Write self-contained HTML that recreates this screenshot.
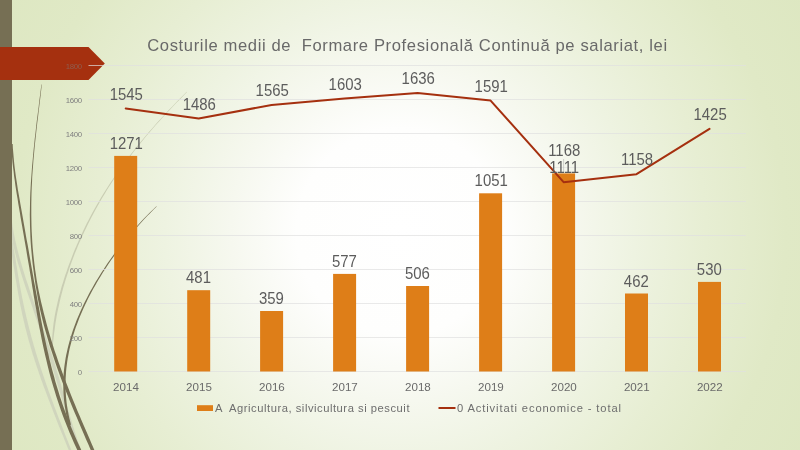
<!DOCTYPE html>
<html lang="ro"><head><meta charset="utf-8"><title>Costurile medii de Formare Profesională Continuă pe salariat, lei</title>
<style>
html,body{margin:0;padding:0;width:800px;height:450px;overflow:hidden;background:#e3eacf}
svg{display:block;position:absolute;left:0;top:0}
text{font-family:"Liberation Sans",sans-serif;white-space:pre}
.t{font-size:16.6px;fill:#696969;letter-spacing:0.62px}
.dl{font-size:15.9px;fill:#5c5c5c}
.ya{font-size:7.8px;fill:#808080;letter-spacing:-0.3px}
.xa{font-size:11.6px;fill:#6a6a6a}
.lg{font-size:11.2px;fill:#6e6e6e}
</style></head><body>
<svg width="800" height="450" viewBox="0 0 800 450">
<defs>
<radialGradient id="bg" gradientUnits="userSpaceOnUse" cx="400" cy="232" r="470">
<stop offset="0" stop-color="#ffffff"/>
<stop offset="0.22" stop-color="#fefefd"/>
<stop offset="0.36" stop-color="#f6f8ef"/>
<stop offset="0.5" stop-color="#eef3e1"/>
<stop offset="0.65" stop-color="#e7eed3"/>
<stop offset="0.82" stop-color="#e0e9c6"/>
<stop offset="1" stop-color="#dde7c1"/>
</radialGradient>
</defs>
<rect width="800" height="450" fill="url(#bg)"/>
<g stroke="none">
<path d="M11.3 235.7 L12.0 239.0 L12.6 242.2 L13.2 245.5 L13.7 248.7 L14.3 252.0 L14.8 255.2 L15.4 258.5 L15.9 261.7 L16.4 265.0 L17.0 268.2 L17.5 271.5 L18.0 274.7 L18.6 278.0 L19.1 281.2 L19.7 284.4 L20.3 287.7 L20.9 290.9 L21.5 294.1 L22.1 297.4 L22.8 300.6 L23.4 303.8 L24.1 307.1 L24.8 310.3 L25.6 313.5 L26.3 316.8 L27.1 320.0 L27.9 323.2 L28.7 326.5 L29.5 329.7 L30.4 332.9 L31.2 336.2 L32.1 339.4 L33.0 342.6 L33.9 345.9 L34.9 349.1 L35.8 352.4 L36.8 355.6 L37.8 358.8 L38.8 362.1 L39.9 365.3 L40.9 368.6 L42.0 371.8 L43.1 375.1 L44.2 378.3 L45.3 381.6 L46.4 384.8 L47.6 388.1 L48.7 391.3 L49.9 394.6 L51.1 397.8 L52.3 401.1 L53.5 404.3 L54.7 407.5 L56.0 410.8 L57.2 414.0 L58.4 417.3 L59.7 420.5 L61.0 423.8 L62.2 427.0 L63.5 430.3 L64.7 433.6 L66.0 436.8 L67.3 440.1 L68.6 443.3 L69.9 446.6 L71.2 449.8 L72.5 453.1 L73.8 456.3 L75.1 459.5 L72.9 460.5 L71.6 457.2 L70.3 454.0 L69.0 450.7 L67.6 447.5 L66.3 444.2 L65.0 441.0 L63.7 437.7 L62.4 434.5 L61.0 431.3 L59.7 428.0 L58.4 424.8 L57.1 421.5 L55.9 418.3 L54.6 415.1 L53.3 411.8 L52.1 408.6 L50.8 405.3 L49.6 402.1 L48.3 398.8 L47.1 395.6 L45.9 392.3 L44.7 389.1 L43.5 385.9 L42.3 382.6 L41.1 379.4 L40.0 376.1 L38.9 372.9 L37.8 369.6 L36.7 366.4 L35.6 363.1 L34.6 359.9 L33.5 356.6 L32.5 353.4 L31.5 350.1 L30.6 346.9 L29.6 343.6 L28.7 340.4 L27.8 337.1 L26.9 333.8 L26.1 330.6 L25.2 327.3 L24.5 324.1 L23.7 320.8 L23.0 317.5 L22.2 314.3 L21.6 311.0 L20.9 307.8 L20.2 304.5 L19.6 301.2 L19.0 298.0 L18.4 294.7 L17.8 291.5 L17.3 288.2 L16.7 285.0 L16.2 281.7 L15.6 278.4 L15.1 275.2 L14.6 271.9 L14.1 268.7 L13.5 265.4 L13.0 262.2 L12.5 259.0 L12.0 255.7 L11.5 252.5 L10.9 249.2 L10.4 246.0 L9.8 242.7 L9.3 239.5 L8.7 236.3Z" fill="#d0d5bd"/>
<path d="M11.8 219.8 L12.2 223.3 L12.7 226.7 L13.3 230.2 L13.9 233.7 L14.6 237.1 L15.3 240.6 L16.1 244.0 L16.9 247.5 L17.8 250.9 L18.7 254.4 L19.6 257.9 L20.6 261.3 L21.6 264.8 L22.6 268.3 L23.7 271.7 L24.8 275.2 L25.9 278.7 L27.0 282.1 L28.2 285.6 L29.3 289.1 L30.5 292.6 L31.7 296.0 L32.9 299.5 L34.1 303.0 L35.3 306.5 L36.6 309.9 L37.8 313.4 L39.1 316.9 L40.3 320.3 L41.5 323.8 L42.7 327.3 L43.9 330.8 L45.1 334.3 L46.3 337.7 L47.4 341.2 L48.6 344.7 L49.7 348.2 L50.9 351.7 L52.0 355.1 L53.1 358.6 L54.2 362.1 L55.3 365.6 L56.3 369.1 L57.4 372.6 L58.5 376.0 L59.5 379.5 L60.5 383.0 L61.5 386.5 L62.5 390.0 L63.5 393.5 L64.5 397.0 L65.5 400.4 L66.5 403.9 L67.5 407.4 L68.5 410.9 L69.5 414.4 L70.5 417.8 L71.6 421.3 L72.6 424.8 L73.7 428.3 L74.8 431.7 L76.0 435.2 L77.1 438.7 L78.3 442.2 L79.6 445.7 L80.9 449.1 L82.3 452.6 L83.7 456.0 L85.3 459.5 L83.1 460.5 L81.5 457.0 L80.1 453.5 L78.7 450.0 L77.3 446.5 L76.0 443.0 L74.7 439.6 L73.4 436.1 L72.2 432.6 L71.1 429.1 L70.0 425.6 L68.9 422.2 L67.8 418.7 L66.7 415.2 L65.7 411.7 L64.6 408.2 L63.6 404.8 L62.6 401.3 L61.5 397.8 L60.5 394.4 L59.5 390.9 L58.4 387.4 L57.4 383.9 L56.3 380.5 L55.3 377.0 L54.2 373.5 L53.2 370.0 L52.1 366.6 L51.0 363.1 L49.9 359.6 L48.8 356.2 L47.7 352.7 L46.6 349.2 L45.4 345.7 L44.3 342.3 L43.1 338.8 L42.0 335.3 L40.8 331.8 L39.6 328.4 L38.4 324.9 L37.2 321.4 L36.0 317.9 L34.8 314.4 L33.6 310.9 L32.5 307.5 L31.3 304.0 L30.1 300.5 L28.9 297.0 L27.7 293.5 L26.5 290.0 L25.3 286.6 L24.2 283.1 L23.0 279.6 L21.9 276.1 L20.8 272.6 L19.8 269.1 L18.7 265.6 L17.7 262.2 L16.7 258.7 L15.8 255.2 L14.9 251.7 L14.0 248.2 L13.2 244.7 L12.4 241.2 L11.7 237.7 L11.1 234.2 L10.5 230.7 L9.9 227.2 L9.5 223.7 L9.1 220.2Z" fill="#d0d5bd"/>
<path d="M187.0 92.1 L183.4 95.8 L179.8 99.4 L176.2 103.1 L172.7 106.8 L169.2 110.4 L165.8 114.1 L162.4 117.8 L159.1 121.5 L155.8 125.1 L152.6 128.8 L149.4 132.5 L146.3 136.1 L143.3 139.8 L140.3 143.5 L137.3 147.2 L134.4 150.8 L131.6 154.5 L128.8 158.2 L126.0 161.8 L123.4 165.5 L120.7 169.2 L118.2 172.8 L115.7 176.5 L113.2 180.2 L110.8 183.9 L108.5 187.5 L106.2 191.2 L104.0 194.9 L101.8 198.6 L99.7 202.2 L97.6 205.9 L95.6 209.6 L93.6 213.2 L91.6 216.9 L89.8 220.6 L87.9 224.3 L86.1 227.9 L84.4 231.6 L82.7 235.3 L81.0 238.9 L79.4 242.6 L77.8 246.2 L76.3 249.9 L74.8 253.6 L73.4 257.2 L72.0 260.9 L70.7 264.6 L69.4 268.2 L68.2 271.9 L67.0 275.6 L65.8 279.2 L64.7 282.9 L63.6 286.6 L62.6 290.2 L61.6 293.9 L60.7 297.6 L59.8 301.2 L59.0 304.9 L58.2 308.5 L57.4 312.2 L56.7 315.8 L56.1 319.5 L55.5 323.1 L55.0 326.8 L54.5 330.4 L54.0 334.1 L53.6 337.7 L53.2 341.4 L52.8 345.0 L52.1 345.0 L52.1 341.3 L52.2 337.6 L52.5 333.9 L52.8 330.2 L53.2 326.5 L53.6 322.9 L54.2 319.2 L54.8 315.5 L55.5 311.8 L56.3 308.1 L57.1 304.4 L57.9 300.8 L58.8 297.1 L59.8 293.4 L60.8 289.7 L61.8 286.1 L63.0 282.4 L64.1 278.7 L65.3 275.0 L66.6 271.4 L67.8 267.7 L69.2 264.0 L70.6 260.4 L72.0 256.7 L73.4 253.0 L74.9 249.3 L76.5 245.7 L78.1 242.0 L79.7 238.3 L81.4 234.7 L83.1 231.0 L84.9 227.3 L86.7 223.6 L88.6 220.0 L90.5 216.3 L92.5 212.6 L94.5 209.0 L96.6 205.3 L98.7 201.7 L100.8 198.0 L103.1 194.3 L105.3 190.7 L107.7 187.0 L110.1 183.3 L112.5 179.7 L115.0 176.0 L117.5 172.4 L120.1 168.7 L122.7 165.0 L125.4 161.4 L128.2 157.7 L131.0 154.0 L133.8 150.4 L136.7 146.7 L139.7 143.0 L142.7 139.4 L145.8 135.7 L148.9 132.0 L152.1 128.4 L155.3 124.7 L158.6 121.0 L162.0 117.4 L165.4 113.7 L168.8 110.0 L172.3 106.4 L175.8 102.7 L179.4 99.0 L183.0 95.4 L186.7 91.7Z" fill="#c9cdb3"/>
<path d="M41.8 84.5 L41.2 90.0 L40.6 95.4 L39.9 100.9 L39.3 106.3 L38.6 111.7 L38.0 117.2 L37.3 122.6 L36.7 128.1 L36.1 133.5 L35.5 139.0 L34.9 144.4 L34.4 149.8 L33.9 155.3 L33.4 160.7 L33.0 166.2 L32.6 171.6 L32.2 177.0 L32.0 182.5 L31.7 187.9 L31.5 193.4 L31.4 198.8 L31.3 204.2 L31.3 209.7 L31.3 215.1 L31.4 220.5 L31.5 226.0 L31.7 231.4 L32.0 236.8 L32.3 242.3 L32.7 247.7 L33.2 253.1 L33.8 258.6 L34.4 264.0 L35.1 269.4 L35.9 274.8 L36.7 280.3 L37.7 285.7 L38.7 291.1 L39.9 296.5 L41.1 301.9 L42.4 307.3 L43.7 312.7 L45.1 318.1 L46.5 323.6 L48.0 329.0 L49.6 334.4 L51.2 339.8 L52.9 345.3 L54.6 350.7 L56.5 356.1 L58.3 361.5 L60.3 366.9 L62.3 372.4 L64.3 377.8 L66.4 383.2 L68.5 388.6 L70.6 394.1 L72.8 399.5 L75.1 404.9 L77.3 410.4 L79.6 415.8 L81.9 421.3 L84.3 426.7 L86.6 432.1 L89.0 437.6 L91.3 443.0 L93.7 448.5 L96.0 453.9 L98.3 459.4 L95.3 460.6 L93.0 455.2 L90.6 449.8 L88.3 444.3 L85.9 438.9 L83.6 433.4 L81.2 428.0 L78.9 422.6 L76.6 417.1 L74.3 411.7 L72.0 406.2 L69.8 400.8 L67.6 395.3 L65.4 389.9 L63.3 384.4 L61.2 379.0 L59.2 373.5 L57.2 368.0 L55.3 362.6 L53.5 357.1 L51.7 351.6 L49.9 346.2 L48.3 340.7 L46.7 335.3 L45.1 329.8 L43.6 324.3 L42.3 318.9 L41.0 313.4 L39.7 307.9 L38.6 302.4 L37.6 297.0 L36.7 291.5 L35.7 286.0 L34.9 280.6 L34.1 275.1 L33.4 269.6 L32.7 264.2 L32.1 258.7 L31.6 253.3 L31.1 247.8 L30.7 242.4 L30.4 236.9 L30.2 231.5 L30.0 226.0 L29.9 220.6 L29.8 215.1 L29.9 209.7 L30.0 204.2 L30.1 198.8 L30.3 193.3 L30.6 187.9 L30.9 182.4 L31.3 177.0 L31.7 171.5 L32.1 166.1 L32.6 160.7 L33.1 155.2 L33.6 149.8 L34.2 144.3 L34.7 138.9 L35.4 133.4 L36.0 128.0 L36.6 122.6 L37.3 117.1 L38.0 111.7 L38.7 106.2 L39.3 100.8 L40.0 95.4 L40.7 89.9 L41.4 84.5Z" fill="#766f54"/>
<path d="M12.7 144.0 L12.9 148.5 L13.3 153.1 L13.7 157.7 L14.1 162.2 L14.6 166.8 L15.2 171.4 L15.8 175.9 L16.5 180.5 L17.2 185.1 L17.9 189.7 L18.7 194.2 L19.5 198.8 L20.3 203.4 L21.1 207.9 L21.9 212.5 L22.7 217.1 L23.5 221.7 L24.3 226.3 L25.1 230.8 L25.9 235.4 L26.7 240.0 L27.6 244.6 L28.4 249.1 L29.2 253.7 L30.0 258.3 L30.8 262.9 L31.6 267.5 L32.4 272.0 L33.2 276.6 L34.0 281.2 L34.9 285.7 L35.7 290.3 L36.6 294.9 L37.4 299.5 L38.2 304.0 L39.1 308.6 L39.9 313.2 L40.7 317.7 L41.6 322.3 L42.5 326.9 L43.4 331.5 L44.3 336.0 L45.3 340.6 L46.3 345.2 L47.3 349.7 L48.4 354.3 L49.4 358.9 L50.6 363.4 L51.7 368.0 L52.9 372.5 L54.2 377.1 L55.4 381.7 L56.8 386.2 L58.2 390.8 L59.6 395.4 L61.1 399.9 L62.6 404.5 L64.2 409.0 L65.9 413.6 L67.6 418.1 L69.4 422.7 L71.2 427.3 L73.1 431.8 L75.1 436.4 L77.1 440.9 L79.2 445.5 L81.3 450.1 L83.5 454.6 L85.7 459.2 L82.5 460.8 L80.2 456.2 L78.0 451.6 L75.9 447.0 L73.8 442.4 L71.8 437.8 L69.8 433.2 L67.9 428.6 L66.1 424.0 L64.3 419.4 L62.5 414.8 L60.9 410.2 L59.3 405.6 L57.8 401.0 L56.3 396.4 L54.9 391.8 L53.5 387.2 L52.1 382.6 L50.8 378.0 L49.6 373.4 L48.4 368.8 L47.3 364.2 L46.2 359.6 L45.1 355.0 L44.1 350.4 L43.1 345.9 L42.1 341.3 L41.2 336.7 L40.3 332.1 L39.4 327.5 L38.6 322.9 L37.7 318.3 L36.9 313.7 L36.1 309.1 L35.2 304.6 L34.5 300.0 L33.7 295.4 L33.0 290.8 L32.2 286.2 L31.5 281.6 L30.8 277.0 L30.0 272.4 L29.3 267.8 L28.5 263.3 L27.7 258.7 L26.9 254.1 L26.2 249.5 L25.4 244.9 L24.6 240.4 L23.8 235.8 L23.0 231.2 L22.2 226.6 L21.4 222.0 L20.6 217.5 L19.9 212.9 L19.1 208.3 L18.3 203.7 L17.6 199.1 L16.8 194.5 L16.1 189.9 L15.4 185.4 L14.8 180.8 L14.1 176.2 L13.6 171.6 L13.0 167.0 L12.5 162.4 L12.1 157.8 L11.7 153.2 L11.4 148.6 L11.2 144.0Z" fill="#766f54"/>
<path d="M156.7 206.6 L153.4 209.7 L150.3 212.9 L147.2 216.1 L144.1 219.3 L141.2 222.5 L138.3 225.7 L135.5 228.8 L132.8 232.0 L130.1 235.2 L127.5 238.4 L124.9 241.5 L122.4 244.7 L120.0 247.9 L117.6 251.1 L115.3 254.2 L113.0 257.4 L110.8 260.6 L108.6 263.7 L106.5 266.9 L104.5 270.1 L102.4 273.2 L100.5 276.4 L98.6 279.6 L96.7 282.7 L94.9 285.9 L93.1 289.1 L91.4 292.3 L89.7 295.4 L88.1 298.6 L86.6 301.8 L85.0 304.9 L83.6 308.1 L82.2 311.3 L80.8 314.4 L79.5 317.6 L78.3 320.8 L77.1 323.9 L75.9 327.1 L74.8 330.2 L73.8 333.4 L72.8 336.6 L71.9 339.7 L71.1 342.9 L70.3 346.0 L69.5 349.2 L68.9 352.3 L68.3 355.5 L67.7 358.6 L67.2 361.8 L66.8 364.9 L66.4 368.1 L66.1 371.2 L65.9 374.4 L65.7 377.5 L65.6 380.7 L65.5 383.8 L65.6 387.0 L65.6 390.1 L65.8 393.3 L66.0 396.4 L66.3 399.5 L66.6 402.7 L67.0 405.8 L67.5 409.0 L68.1 412.1 L68.7 415.3 L69.4 418.4 L70.2 421.5 L71.0 424.7 L68.5 425.3 L67.8 422.1 L67.0 418.9 L66.4 415.7 L65.8 412.5 L65.3 409.3 L64.8 406.1 L64.4 403.0 L64.0 399.8 L63.8 396.6 L63.5 393.4 L63.4 390.2 L63.3 387.0 L63.3 383.8 L63.3 380.6 L63.5 377.4 L63.6 374.2 L63.9 371.0 L64.2 367.9 L64.6 364.7 L65.1 361.5 L65.6 358.3 L66.2 355.1 L66.9 351.9 L67.6 348.7 L68.4 345.6 L69.2 342.4 L70.1 339.2 L71.1 336.0 L72.1 332.8 L73.1 329.7 L74.3 326.5 L75.5 323.3 L76.7 320.1 L78.0 317.0 L79.4 313.8 L80.8 310.6 L82.2 307.5 L83.7 304.3 L85.3 301.1 L86.9 298.0 L88.5 294.8 L90.2 291.6 L92.0 288.5 L93.8 285.3 L95.6 282.1 L97.5 279.0 L99.5 275.8 L101.5 272.6 L103.5 269.5 L105.6 266.3 L107.7 263.1 L109.9 259.9 L112.2 256.8 L114.5 253.6 L116.8 250.4 L119.2 247.3 L121.7 244.1 L124.2 241.0 L126.8 237.8 L129.4 234.6 L132.1 231.5 L134.9 228.3 L137.8 225.2 L140.7 222.0 L143.7 218.8 L146.7 215.7 L149.9 212.5 L153.1 209.4 L156.4 206.2Z" fill="#766f54"/>
</g>
<rect x="0" y="0" width="12" height="450" fill="#766f54"/>
<path d="M0 47 H88.5 L104.8 63.6 L88.5 80 H0 Z" fill="#a5300f"/>
<text class="t" x="407.5" y="51.4" text-anchor="middle">Costurile medii de  Formare Profesională Continuă pe salariat, lei</text>
<g stroke="#e0e0e0" stroke-width="1" stroke-opacity="0.7">
<line x1="88.5" y1="371.5" x2="746.0" y2="371.5"/>
<line x1="88.5" y1="337.5" x2="746.0" y2="337.5"/>
<line x1="88.5" y1="303.5" x2="746.0" y2="303.5"/>
<line x1="88.5" y1="269.5" x2="746.0" y2="269.5"/>
<line x1="88.5" y1="235.5" x2="746.0" y2="235.5"/>
<line x1="88.5" y1="201.5" x2="746.0" y2="201.5"/>
<line x1="88.5" y1="167.5" x2="746.0" y2="167.5"/>
<line x1="88.5" y1="133.5" x2="746.0" y2="133.5"/>
<line x1="88.5" y1="99.5" x2="746.0" y2="99.5"/>
<line x1="88.5" y1="65.5" x2="746.0" y2="65.5"/>
</g>
<text class="ya" x="81.8" y="374.6" text-anchor="end">0</text>
<text class="ya" x="81.8" y="340.6" text-anchor="end">200</text>
<text class="ya" x="81.8" y="306.6" text-anchor="end">400</text>
<text class="ya" x="81.8" y="272.6" text-anchor="end">600</text>
<text class="ya" x="81.8" y="238.6" text-anchor="end">800</text>
<text class="ya" x="81.8" y="204.6" text-anchor="end">1000</text>
<text class="ya" x="81.8" y="170.6" text-anchor="end">1200</text>
<text class="ya" x="81.8" y="136.6" text-anchor="end">1400</text>
<text class="ya" x="81.8" y="102.6" text-anchor="end">1600</text>
<text class="ya" x="81.8" y="68.6" text-anchor="end" fill-opacity="0.55">1800</text>
<g fill="#de7e18">
<rect x="114.2" y="155.9" width="23.0" height="215.6"/>
<rect x="187.2" y="290.2" width="23.0" height="81.3"/>
<rect x="260.1" y="311.0" width="23.0" height="60.5"/>
<rect x="333.1" y="273.9" width="23.0" height="97.6"/>
<rect x="406.1" y="286.0" width="23.0" height="85.5"/>
<rect x="479.1" y="193.3" width="23.0" height="178.2"/>
<rect x="552.1" y="173.4" width="23.0" height="198.1"/>
<rect x="625.0" y="293.5" width="23.0" height="78.0"/>
<rect x="698.0" y="281.9" width="23.0" height="89.6"/>
</g>
<polyline points="125.7,108.5 198.7,118.5 271.6,105.0 344.6,98.6 417.6,93.0 490.6,100.6 563.6,182.2 636.5,174.2 709.5,128.8" fill="none" stroke="#a5300f" stroke-width="2" stroke-linejoin="round" stroke-linecap="round"/>
<line x1="563.6" y1="159" x2="563.6" y2="173" stroke="#a6a6a6" stroke-width="0.5"/>
<text class="dl" transform="translate(126.3 149.0) scale(0.94 1)" text-anchor="middle">1271</text>
<text class="dl" transform="translate(198.5 283.3) scale(0.94 1)" text-anchor="middle">481</text>
<text class="dl" transform="translate(271.4 304.1) scale(0.94 1)" text-anchor="middle">359</text>
<text class="dl" transform="translate(344.4 267.0) scale(0.94 1)" text-anchor="middle">577</text>
<text class="dl" transform="translate(417.4 279.1) scale(0.94 1)" text-anchor="middle">506</text>
<text class="dl" transform="translate(491.2 186.4) scale(0.94 1)" text-anchor="middle">1051</text>
<text class="dl" transform="translate(564.2 155.6) scale(0.94 1)" text-anchor="middle">1168</text>
<text class="dl" transform="translate(636.3 286.6) scale(0.94 1)" text-anchor="middle">462</text>
<text class="dl" transform="translate(709.3 275.0) scale(0.94 1)" text-anchor="middle">530</text>
<text class="dl" transform="translate(126.3 99.7) scale(0.94 1)" text-anchor="middle">1545</text>
<text class="dl" transform="translate(199.3 109.7) scale(0.94 1)" text-anchor="middle">1486</text>
<text class="dl" transform="translate(272.2 96.2) scale(0.94 1)" text-anchor="middle">1565</text>
<text class="dl" transform="translate(345.2 89.8) scale(0.94 1)" text-anchor="middle">1603</text>
<text class="dl" transform="translate(418.2 84.2) scale(0.94 1)" text-anchor="middle">1636</text>
<text class="dl" transform="translate(491.2 91.8) scale(0.94 1)" text-anchor="middle">1591</text>
<text class="dl" transform="translate(564.2 173.4) scale(0.94 1)" text-anchor="middle">1111</text>
<text class="dl" transform="translate(637.1 165.4) scale(0.94 1)" text-anchor="middle">1158</text>
<text class="dl" transform="translate(710.1 120.0) scale(0.94 1)" text-anchor="middle">1425</text>
<text class="xa" x="126.0" y="391" text-anchor="middle">2014</text>
<text class="xa" x="199.0" y="391" text-anchor="middle">2015</text>
<text class="xa" x="271.9" y="391" text-anchor="middle">2016</text>
<text class="xa" x="344.9" y="391" text-anchor="middle">2017</text>
<text class="xa" x="417.9" y="391" text-anchor="middle">2018</text>
<text class="xa" x="490.9" y="391" text-anchor="middle">2019</text>
<text class="xa" x="563.9" y="391" text-anchor="middle">2020</text>
<text class="xa" x="636.8" y="391" text-anchor="middle">2021</text>
<text class="xa" x="709.8" y="391" text-anchor="middle">2022</text>
<rect x="197" y="405.2" width="16" height="5.8" fill="#de7e18"/>
<text class="lg" x="215" y="411.7" textLength="194.5" lengthAdjust="spacing">A  Agricultura, silvicultura si pescuit</text>
<rect x="438.5" y="407" width="17" height="2" fill="#a5300f"/>
<text class="lg" x="457" y="411.7" textLength="164" lengthAdjust="spacing">0 Activitati economice - total</text>
</svg>
</body></html>
